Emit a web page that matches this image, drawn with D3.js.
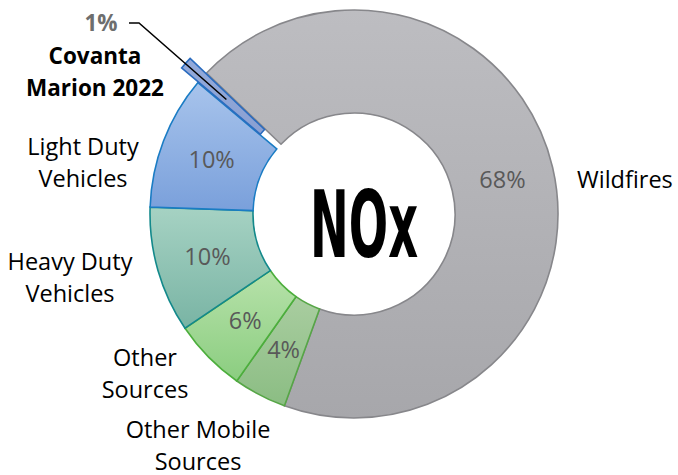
<!DOCTYPE html>
<html>
<head>
<meta charset="utf-8">
<script src="https://cdn.jsdelivr.net/npm/d3@7"></script>
<style>
  html, body { margin: 0; padding: 0; background: #fff; }
  svg { display: block; }
</style>
</head>
<body>
<svg id="chart" width="678" height="475"></svg>
<script>
// ---- data ----
const categories = ["Wildfires", "Other Mobile Sources", "Other Sources", "Heavy Duty Vehicles", "Light Duty Vehicles", "Covanta Marion 2022"];
const values = [68.4, 4.2, 5.8, 10.0, 10.6, 1.0];
const pctLabels = ["68%", "4%", "6%", "10%", "10%", "1%"];
const labelLines = [["Wildfires"], ["Other Mobile", "Sources"], ["Other", "Sources"], ["Heavy Duty", "Vehicles"], ["Light Duty", "Vehicles"], ["Covanta", "Marion 2022"]];
const centerTitle = "NOx";

// ---- styles ----
const fillTop =    ["#bdbdc1", "#a9cda0", "#b7e2aa", "#a6d2c3", "#a8c4ec", "#93aadb"];
const fillBottom = ["#a7a7ab", "#8bbd83", "#8bcd80", "#79b4a4", "#7aa0db", "#8aa0d2"];
const strokes =    ["#87878b", "#56a646", "#4cae3c", "#13898b", "#1a7cc4", "#2b6cbf"];

const W = 678, H = 475;
const cx = 354, cy = 214, R = 204, r = 101;
const startDeg = 313.7;
const explodeIdx = 5, explodeDist = 22;

const svg = d3.select("#chart");
const defs = svg.append("defs");
categories.forEach((c, i) => {
  const g = defs.append("linearGradient").attr("id", "g" + i)
    .attr("x1", 0).attr("y1", 0).attr("x2", 0).attr("y2", 1);
  g.append("stop").attr("offset", "0%").attr("stop-color", fillTop[i]);
  g.append("stop").attr("offset", "100%").attr("stop-color", fillBottom[i]);
});

const data = categories.map((c, i) => ({ c, v: values[i], i }));
const start = startDeg * Math.PI / 180;
const pie = d3.pie().value(d => d.v).sort(null).startAngle(start).endAngle(start + 2 * Math.PI);
const arcs = pie(data);
const arc = d3.arc().innerRadius(r).outerRadius(R);

const root = svg.append("g").attr("transform", `translate(${cx},${cy})`);

function offset(d) {
  if (d.data.i !== explodeIdx) return [0, 0];
  const m = (d.startAngle + d.endAngle) / 2;
  return [Math.sin(m) * explodeDist, -Math.cos(m) * explodeDist];
}

root.selectAll("path.slice").data(arcs).join("path")
  .attr("class", "slice")
  .attr("d", arc)
  .attr("transform", d => { const o = offset(d); return `translate(${o[0]},${o[1]})`; })
  .attr("fill", d => `url(#g${d.data.i})`)
  .attr("stroke", d => strokes[d.data.i])
  .attr("stroke-width", 1.6)
  .attr("stroke-linejoin", "miter");

// percentage labels inside slices
const font = "'Open Sans', 'Liberation Sans', sans-serif";
const fs = 23.5;
root.selectAll("text.pct").data(arcs.filter(d => d.data.i !== explodeIdx)).join("text")
  .attr("class", "pct")
  .attr("x", d => arc.centroid(d)[0])
  .attr("y", d => arc.centroid(d)[1])
  .attr("dy", "0.36em")
  .attr("text-anchor", "middle")
  .attr("font-family", font)
  .attr("font-size", fs)
  .attr("fill", "#595959")
  .text(d => pctLabels[d.data.i]);

// category labels (layout positions)
const labelLayout = {
  0: { x: 577, y: 188, anchor: "start" },
  1: { x: 198, y: 438, anchor: "middle" },
  2: { x: 145, y: 366, anchor: "middle" },
  3: { x: 70, y: 270, anchor: "middle" },
  4: { x: 83, y: 155, anchor: "middle" },
  5: { x: 95, y: 64, anchor: "middle", bold: true }
};
const lineGap = 31.5;
categories.forEach((c, i) => {
  const L = labelLayout[i];
  labelLines[i].forEach((t, k) => {
    svg.append("text")
      .attr("x", L.x).attr("y", L.y + k * lineGap)
      .attr("text-anchor", L.anchor)
      .attr("font-family", font)
      .attr("font-size", L.bold ? 22.5 : fs)
      .attr("font-weight", L.bold ? "bold" : "normal")
      .attr("fill", "#000")
      .text(t);
  });
});

// exploded slice percent label with leader line
const ex = arcs.find(d => d.data.i === explodeIdx);
const m = (ex.startAngle + ex.endAngle) / 2;
const rr = (r + R) / 2;
const o = offset(ex);
const tip = [cx + Math.sin(m) * rr * 0.98 + o[0], cy - Math.cos(m) * rr * 0.98 + o[1]];
svg.append("path")
  .attr("d", d3.line()([[129, 23], [139, 23], tip]))
  .attr("fill", "none").attr("stroke", "#000").attr("stroke-width", 1.5);
svg.append("text")
  .attr("x", 101).attr("y", 31)
  .attr("text-anchor", "middle")
  .attr("font-family", font)
  .attr("font-size", 22.5)
  .attr("font-weight", "bold")
  .attr("fill", "#6e6e6e")
  .text(pctLabels[explodeIdx]);

// centre title (condensed by horizontal scaling so its box is true)
const title = svg.append("text")
  .attr("x", 0).attr("y", 0)
  .attr("text-anchor", "middle")
  .attr("font-family", "'DejaVu Sans Condensed', 'DejaVu Sans', sans-serif")
  .attr("font-weight", "bold")
  .attr("font-size", 92)
  .attr("fill", "#000")
  .text(centerTitle);
const tw = title.node().getComputedTextLength();
const sx = 108 / tw;
title.attr("transform", `translate(364,257) scale(${sx},1)`);
</script>
</body>
</html>
